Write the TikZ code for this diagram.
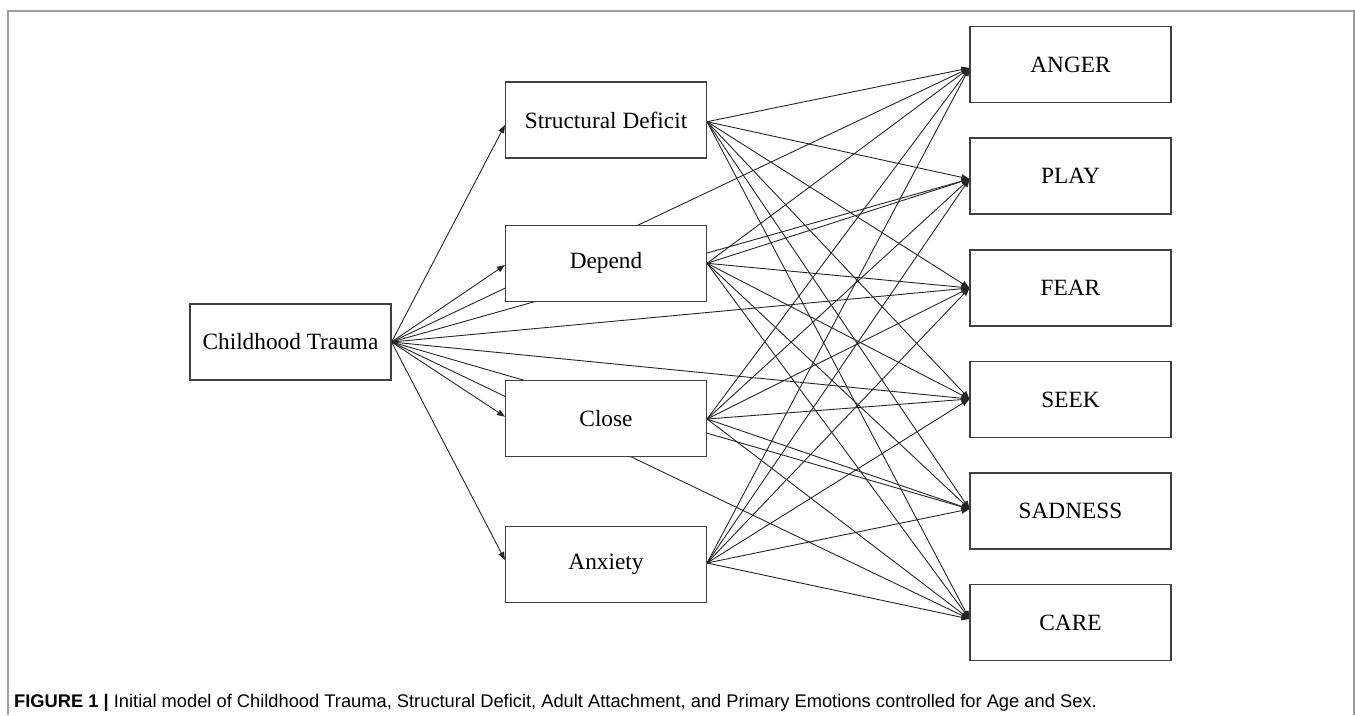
\documentclass[tikz,border=0pt]{standalone}
\usepackage{fontspec}
\setmainfont{Liberation Serif}
\newfontfamily\capfont{Liberation Sans}
\usetikzlibrary{arrows.meta,calc}
\pgfdeclarelayer{bg}
\pgfsetlayers{bg,main}
\begin{document}
\begin{tikzpicture}[x=1pt,y=-1pt,
  box/.style={draw=black!75, line width=1.1pt, fill=white, minimum width=201pt,
    minimum height=76pt, inner sep=0pt, font=\fontsize{23.3}{28}\selectfont},
  edge/.style={draw=black!85, line width=0.9pt, -{Triangle[length=8pt,width=6pt]}},
  frame/.style={draw=black!38, line width=1.5pt}]
\useasboundingbox (0,0) rectangle (1355,715);
% frame
\coordinate (f1) at (8,715);
\coordinate (f2) at (8,11);
\coordinate (f3) at (1354,11);
\coordinate (f4) at (1354,715);
\draw[frame] (f1) -- (f2) -- (f3) -- (f4);
% boxes
\node[box] (ct)  at (290.5,342)   {Childhood Trauma};
\node[box] (sd)  at (606,120)     {Structural Deficit};
\node[box] (dep) at (606,263.3)   {Depend};
\node[box] (clo) at (606,418.3)   {Close};
\node[box] (anx) at (606,564.3)   {Anxiety};
\node[box] (anger) at (1070.5,64.5)  {ANGER};
\node[box] (play)  at (1070.5,176)   {PLAY};
\node[box] (fear)  at (1070.5,288)   {FEAR};
\node[box] (seek)  at (1070.5,399.7) {SEEK};
\node[box] (sad)   at (1070.5,511)   {SADNESS};
\node[box] (care)  at (1070.5,622.5) {CARE};
% anchor points
\coordinate (ctO) at (ct.east);
\coordinate (sdI) at ($(sd.west)+(0,5)$);
\coordinate (depI) at ($(dep.west)+(0,1.7)$);
\coordinate (cloI) at ($(clo.west)+(0,-1.6)$);
\coordinate (anxI) at ($(anx.west)+(0,-4.3)$);
\coordinate (sdO) at ($(sd.east)+(0,1.7)$);
\coordinate (depO) at (dep.east);
\coordinate (cloO) at ($(clo.east)+(0,0.7)$);
\coordinate (anxO) at ($(anx.east)+(0,-1.3)$);
\coordinate (angerI) at ($(anger.west)+(0,3.5)$);
\coordinate (playI) at ($(play.west)+(0,3)$);
\coordinate (fearI) at (fear.west);
\coordinate (seekI) at ($(seek.west)+(0,-0.7)$);
\coordinate (sadI) at ($(sad.west)+(0,-2)$);
\coordinate (careI) at ($(care.west)+(0,-3.5)$);
% connectors
\begin{pgfonlayer}{bg}
\foreach \m in {sdI,depI,cloI,anxI}{\draw[edge] (ctO) -- (\m);}
\foreach \s in {ctO,sdO,depO,cloO,anxO}{
  \foreach \e in {angerI,playI,fearI,seekI,sadI,careI}{
    \draw[edge] (\s) -- (\e);
  }
}
\end{pgfonlayer}
% caption
\node[anchor=base west, inner sep=0pt, font=\capfont\fontsize{18.3}{22}\selectfont] (cap) at (14,707)
  {\textbf{FIGURE 1 |} Initial model of Childhood Trauma, Structural Deficit, Adult Attachment, and Primary Emotions controlled for Age and Sex.};
\end{tikzpicture}
\end{document}
